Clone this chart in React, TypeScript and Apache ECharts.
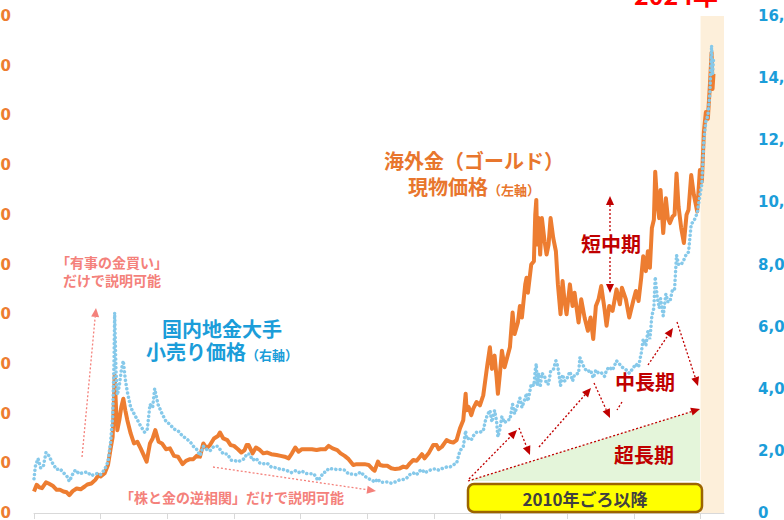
import React, { useEffect, useRef } from "react";
import * as echarts from "echarts";

// 海外金（ゴールド）現物価格 USD/oz  [year, value]
const goldUsd: [number, number][] = [
  [1974.0, 130], [1974.2, 170], [1974.4, 155], [1974.6, 150], [1974.9, 185],
  [1975.1, 178], [1975.4, 165], [1975.7, 140], [1975.95, 140], [1976.2, 130],
  [1976.45, 125], [1976.65, 108], [1976.9, 132], [1977.2, 148], [1977.5, 143],
  [1977.8, 160], [1978.0, 172], [1978.3, 178], [1978.6, 200], [1978.85, 230],
  [1979.0, 220], [1979.3, 240], [1979.55, 290], [1979.75, 390], [1979.9, 460],
  [1980.0, 680], [1980.05, 830], [1980.15, 640], [1980.25, 500], [1980.4, 560],
  [1980.55, 640], [1980.7, 690], [1980.85, 620], [1981.0, 560], [1981.25, 480],
  [1981.5, 420], [1981.75, 430], [1982.0, 390], [1982.45, 310], [1982.7, 420],
  [1982.9, 450], [1983.1, 500], [1983.35, 430], [1983.6, 420], [1983.9, 385],
  [1984.2, 390], [1984.5, 345], [1984.8, 340], [1985.15, 295], [1985.4, 315],
  [1985.7, 325], [1985.95, 325], [1986.2, 345], [1986.45, 340], [1986.7, 420],
  [1986.95, 390], [1987.2, 410], [1987.5, 450], [1987.8, 465], [1987.95, 486],
  [1988.2, 450], [1988.5, 440], [1988.75, 410], [1989.0, 405], [1989.3, 385],
  [1989.55, 365], [1989.8, 380], [1989.95, 410], [1990.1, 410], [1990.4, 360],
  [1990.65, 395], [1990.95, 380], [1991.2, 360], [1991.5, 365], [1991.8, 355],
  [1992.2, 350], [1992.5, 345], [1992.8, 340], [1993.1, 330], [1993.35, 360],
  [1993.6, 395], [1993.85, 370], [1994.1, 385], [1994.5, 385], [1994.85, 385],
  [1995.2, 380], [1995.5, 385], [1995.85, 385], [1996.1, 405], [1996.4, 390],
  [1996.75, 380], [1997.0, 360], [1997.3, 345], [1997.6, 325], [1997.95, 290],
  [1998.2, 295], [1998.5, 295], [1998.8, 295], [1999.1, 290], [1999.4, 265],
  [1999.55, 255], [1999.8, 310], [1999.95, 290], [2000.2, 285], [2000.5, 285],
  [2000.8, 270], [2001.1, 265], [2001.4, 268], [2001.7, 280], [2001.95, 275],
  [2002.2, 300], [2002.45, 320], [2002.7, 315], [2002.95, 340], [2003.1, 355],
  [2003.3, 330], [2003.6, 360], [2003.95, 410], [2004.2, 410], [2004.35, 385],
  [2004.6, 400], [2004.95, 440], [2005.2, 430], [2005.45, 425], [2005.7, 440],
  [2005.95, 510], [2006.2, 560], [2006.38, 720], [2006.45, 620], [2006.6, 640],
  [2006.8, 590], [2006.95, 630], [2007.2, 670], [2007.45, 650], [2007.7, 710],
  [2007.85, 800], [2008.0, 890], [2008.2, 1000], [2008.35, 870], [2008.55, 950],
  [2008.7, 820], [2008.8, 720], [2008.95, 840], [2009.1, 980], [2009.3, 880],
  [2009.5, 940], [2009.7, 1000], [2009.9, 1210], [2010.05, 1080], [2010.3, 1150],
  [2010.45, 1250], [2010.6, 1180], [2010.85, 1380], [2010.95, 1420], [2011.05, 1330],
  [2011.3, 1500], [2011.5, 1520], [2011.6, 1800], [2011.68, 1890], [2011.75, 1620],
  [2011.85, 1780], [2011.97, 1560], [2012.1, 1780], [2012.3, 1640], [2012.45, 1560],
  [2012.6, 1620], [2012.75, 1780], [2012.95, 1660], [2013.15, 1580], [2013.3, 1380],
  [2013.5, 1200], [2013.65, 1400], [2013.8, 1280], [2013.95, 1200], [2014.2, 1380],
  [2014.4, 1250], [2014.55, 1330], [2014.85, 1150], [2015.05, 1290], [2015.3, 1180],
  [2015.55, 1100], [2015.75, 1180], [2015.95, 1050], [2016.15, 1250], [2016.35, 1290],
  [2016.55, 1370], [2016.8, 1230], [2016.95, 1130], [2017.15, 1250], [2017.4, 1220],
  [2017.7, 1350], [2017.95, 1260], [2018.1, 1360], [2018.4, 1290], [2018.65, 1180],
  [2018.95, 1280], [2019.15, 1340], [2019.35, 1280], [2019.55, 1420], [2019.7, 1550],
  [2019.9, 1460], [2020.05, 1580], [2020.2, 1480], [2020.35, 1720], [2020.5, 1770],
  [2020.6, 2060], [2020.75, 1870], [2020.9, 1780], [2021.0, 1950], [2021.2, 1690],
  [2021.4, 1900], [2021.55, 1780], [2021.7, 1750], [2021.9, 1790], [2022.05, 1800],
  [2022.2, 2050], [2022.35, 1850], [2022.55, 1720], [2022.75, 1630], [2022.95, 1800],
  [2023.1, 1830], [2023.3, 2040], [2023.5, 1920], [2023.75, 1820], [2023.95, 2070],
  [2024.1, 2000], [2024.25, 2300], [2024.4, 2420], [2024.55, 2380], [2024.7, 2580],
  [2024.83, 2780], [2024.9, 2560], [2024.97, 2650],
];

// 国内地金大手 小売り価格 円/g  [year, value]
const retailJpy: [number, number][] = [
  [1974.0, 1100], [1974.1, 1500], [1974.3, 1750], [1974.5, 1450], [1974.7, 1500],
  [1974.9, 1950], [1975.1, 1850], [1975.4, 1600], [1975.7, 1400], [1975.95, 1420],
  [1976.2, 1300], [1976.45, 1200], [1976.65, 1020], [1976.9, 1250], [1977.1, 1380],
  [1977.4, 1260], [1977.7, 1300], [1978.0, 1320], [1978.3, 1200], [1978.6, 1260],
  [1978.85, 1280], [1979.0, 1240], [1979.3, 1400], [1979.55, 1650], [1979.75, 2300],
  [1979.9, 3100], [1980.0, 4800], [1980.05, 6450], [1980.15, 4600], [1980.25, 3800],
  [1980.4, 4100], [1980.55, 4600], [1980.7, 4900], [1980.85, 4300], [1981.0, 3900],
  [1981.25, 3400], [1981.5, 3200], [1981.75, 3000], [1982.0, 2800], [1982.3, 2600],
  [1982.5, 2700], [1982.7, 3500], [1982.9, 3400], [1983.05, 4000], [1983.3, 3500],
  [1983.6, 3200], [1983.9, 2950], [1984.2, 2850], [1984.5, 2700], [1984.8, 2650],
  [1985.1, 2500], [1985.4, 2400], [1985.7, 2300], [1985.95, 2150], [1986.2, 2050],
  [1986.45, 1850], [1986.7, 2150], [1986.95, 2050], [1987.2, 2000], [1987.5, 2150],
  [1987.75, 2150], [1987.95, 2050], [1988.2, 1900], [1988.5, 1900], [1988.8, 1700],
  [1989.1, 1680], [1989.3, 1650], [1989.55, 1700], [1989.8, 1750], [1989.95, 1900],
  [1990.15, 1900], [1990.4, 1700], [1990.65, 1760], [1990.95, 1600], [1991.2, 1580],
  [1991.5, 1600], [1991.8, 1480], [1992.1, 1460], [1992.4, 1420], [1992.7, 1400],
  [1993.0, 1360], [1993.3, 1300], [1993.6, 1360], [1993.85, 1300], [1994.1, 1350],
  [1994.4, 1270], [1994.7, 1260], [1995.0, 1260], [1995.3, 1050], [1995.5, 1150],
  [1995.7, 1300], [1995.9, 1320], [1996.1, 1430], [1996.4, 1420], [1996.7, 1400],
  [1997.0, 1400], [1997.3, 1380], [1997.6, 1260], [1997.95, 1250], [1998.2, 1230],
  [1998.5, 1320], [1998.8, 1190], [1999.1, 1100], [1999.4, 1050], [1999.55, 990],
  [1999.8, 1100], [1999.95, 1000], [2000.2, 990], [2000.5, 1000], [2000.8, 960],
  [2001.1, 1000], [2001.4, 1060], [2001.7, 1080], [2001.95, 1120], [2002.2, 1240],
  [2002.45, 1290], [2002.7, 1230], [2002.95, 1360], [2003.1, 1400], [2003.3, 1290],
  [2003.6, 1360], [2003.95, 1420], [2004.2, 1420], [2004.35, 1380], [2004.6, 1430],
  [2004.95, 1480], [2005.2, 1480], [2005.45, 1550], [2005.7, 1600], [2005.95, 2000],
  [2006.2, 2130], [2006.38, 2650], [2006.45, 2380], [2006.6, 2400], [2006.8, 2350],
  [2006.95, 2480], [2007.2, 2600], [2007.45, 2600], [2007.7, 2640], [2007.85, 2950],
  [2008.0, 3150], [2008.2, 3300], [2008.35, 2930], [2008.55, 3300], [2008.7, 2950],
  [2008.8, 2450], [2008.95, 2700], [2009.1, 3100], [2009.3, 2900], [2009.5, 3000],
  [2009.7, 3000], [2009.9, 3500], [2010.05, 3200], [2010.3, 3500], [2010.45, 3700],
  [2010.6, 3400], [2010.85, 3700], [2010.95, 3850], [2011.05, 3600], [2011.3, 4150],
  [2011.5, 4100], [2011.6, 4600], [2011.68, 4800], [2011.75, 4100], [2011.85, 4500],
  [2011.97, 4050], [2012.1, 4500], [2012.3, 4400], [2012.45, 4150], [2012.6, 4150],
  [2012.75, 4550], [2012.95, 4600], [2013.15, 4900], [2013.3, 4700], [2013.5, 4100],
  [2013.65, 4450], [2013.8, 4250], [2013.95, 4300], [2014.2, 4550], [2014.4, 4250],
  [2014.55, 4450], [2014.85, 4500], [2014.95, 5000], [2015.05, 4900], [2015.3, 4650],
  [2015.55, 4550], [2015.75, 4600], [2015.95, 4350], [2016.15, 4600], [2016.35, 4500],
  [2016.55, 4520], [2016.8, 4400], [2016.95, 4600], [2017.15, 4700], [2017.4, 4600],
  [2017.7, 4900], [2017.95, 4780], [2018.1, 4700], [2018.4, 4620], [2018.65, 4500],
  [2018.95, 4670], [2019.15, 4800], [2019.35, 4700], [2019.55, 5150], [2019.7, 5600],
  [2019.9, 5400], [2020.05, 5850], [2020.2, 5600], [2020.35, 6350], [2020.5, 6600],
  [2020.6, 7600], [2020.75, 6950], [2020.9, 6600], [2021.0, 6900], [2021.2, 6350],
  [2021.4, 7050], [2021.55, 6800], [2021.7, 6800], [2021.9, 7200], [2022.05, 7200],
  [2022.2, 8300], [2022.35, 8000], [2022.55, 8000], [2022.75, 8150], [2022.95, 8350],
  [2023.1, 8400], [2023.3, 9300], [2023.5, 9400], [2023.75, 9650], [2023.95, 10200],
  [2024.1, 10600], [2024.25, 12000], [2024.4, 12600], [2024.55, 12800], [2024.7, 13500],
  [2024.83, 15050], [2024.9, 14100], [2024.97, 14600],
];

const xTickYears = [1974, 1979, 1984, 1989, 1994, 1999, 2004, 2009, 2014, 2019, 2024];
const highlightRange = [2024, 2025.76];
const xRange = [1974, 2025.76];
const leftAxisRange = [0, 3000, 300];
const rightAxisRange = [0, 16000, 2000];

const JP = '"Noto Sans CJK JP", "Noto Sans CJK SC", sans-serif';
const SALMON = "#F4817B";
const DARKRED = "#C00000";
const ORANGE = "#ED7D31";
const ORANGE_TXT = "#E8762D";
const BLUE = "#86C9EA";
const BLUE_TXT = "#1B9DD9";

function arrow(x1: number, y1: number, x2: number, y2: number, color: string, head = true) {
  const els: any[] = [];
  const ang = Math.atan2(y2 - y1, x2 - x1);
  const L = 9;
  const W = 4;
  const bx = x2 - L * Math.cos(ang);
  const by = y2 - L * Math.sin(ang);
  els.push({
    type: "line",
    shape: head ? { x1, y1, x2: bx, y2: by } : { x1, y1, x2, y2 },
    style: { stroke: color, lineWidth: 1.3, lineDash: [2, 2] },
    z: 20,
  });
  if (head) {
    const px = -Math.sin(ang) * W;
    const py = Math.cos(ang) * W;
    els.push({
      type: "polygon",
      shape: { points: [[x2, y2], [bx + px, by + py], [bx - px, by - py]] },
      style: { fill: color },
      z: 20,
    });
  }
  return els;
}

function txt(x: number, y: number, text: string, fill: string, size: number, extra: any = {}) {
  return {
    type: "text",
    x,
    y,
    z: 30,
    style: {
      text,
      fill,
      font: `bold ${size}px ${JP}`,
      align: "center",
      verticalAlign: "middle",
      ...extra,
    },
  };
}

function twoLine(x: number, y: number, line1: string, line2: string, sub: string, fill: string, lh: number) {
  return {
    type: "text",
    x,
    y,
    z: 30,
    style: {
      text: `{a|${line1}}\n{a|${line2}}{b|${sub}}`,
      align: "center",
      verticalAlign: "middle",
      rich: {
        a: { fill, fontSize: 20, fontWeight: "bold", fontFamily: JP, lineHeight: lh, verticalAlign: "bottom" },
        b: { fill, fontSize: 13, fontWeight: "bold", fontFamily: JP, lineHeight: lh, verticalAlign: "bottom" },
      },
    },
  };
}

export default function App() {
  const ref = useRef<HTMLDivElement>(null);

  useEffect(() => {
    document.body.style.margin = "0";
    const chart = echarts.init(ref.current as HTMLDivElement, null, { renderer: "svg" });

    const graphics: any[] = [
      {
        type: "polygon",
        shape: { points: [[468, 481], [700, 409], [700, 481]] },
        style: { fill: "#E4F5DA" },
        z: 0,
      },
      ...arrow(82, 457, 96, 308, SALMON),
      ...arrow(213, 467, 376, 491, SALMON),
      ...arrow(610, 231, 610, 196, DARKRED),
      ...arrow(610, 257, 610, 293, DARKRED),
      ...arrow(469, 479, 517, 430, DARKRED),
      ...arrow(519, 428, 530, 455, DARKRED),
      ...arrow(539, 447, 591, 388, DARKRED),
      ...arrow(594, 383, 610, 418, DARKRED),
      ...arrow(622, 402, 617, 410, DARKRED, false),
      ...arrow(648, 365, 673, 328, DARKRED),
      ...arrow(677, 322, 698, 386, DARKRED),
      ...arrow(468, 481, 700, 409, DARKRED),
      {
        type: "rect",
        shape: { x: 468, y: 484, width: 234, height: 28, r: 6 },
        style: { fill: "#FFFF00", stroke: "#9C6500", lineWidth: 2.5 },
        z: 25,
      },
      txt(585, 498, "2010年ごろ以降", "#404040", 17),
      {
        type: "text",
        x: 112,
        y: 271,
        z: 30,
        style: {
          text: "「有事の金買い」\nだけで説明可能",
          fill: SALMON,
          font: `bold 14px ${JP}`,
          lineHeight: 18,
          align: "center",
          verticalAlign: "middle",
        },
      },
      txt(232, 497, "「株と金の逆相関」だけで説明可能", SALMON, 14),
      twoLine(222, 338, "国内地金大手", "小売り価格", "（右軸）", BLUE_TXT, 23),
      twoLine(474, 170, "海外金（ゴールド）", "現物価格", "（左軸）", ORANGE_TXT, 26),
      txt(611, 243, "短中期", DARKRED, 20),
      txt(645, 381, "中長期", DARKRED, 20),
      txt(644, 454, "超長期", DARKRED, 20),
      txt(676, 6, "2024年", "#FF0000", 25, { verticalAlign: "bottom" }),
    ];

    chart.setOption({
      animation: false,
      backgroundColor: "#FFFFFF",
      grid: { left: 34, right: 60, top: 16, bottom: 7, containLabel: false, outerBoundsMode: "none" },
      xAxis: {
        type: "value",
        min: xRange[0],
        max: xRange[1],
        axisLine: { show: true, lineStyle: { color: "#D9D9D9", width: 1 } },
        axisTick: { show: true, length: 6, lineStyle: { color: "#D9D9D9" }, customValues: xTickYears },
        axisLabel: { show: false },
        splitLine: { show: false },
      },
      yAxis: [
        {
          type: "value",
          min: leftAxisRange[0],
          max: leftAxisRange[1],
          interval: leftAxisRange[2],
          position: "left",
          axisLine: { show: false },
          axisTick: { show: false },
          splitLine: { show: false },
          axisLabel: {
            margin: 23,
            color: ORANGE,
            fontSize: 15,
            fontWeight: "bold",
            fontFamily: '"DejaVu Sans", sans-serif',
            formatter: (v: number) => v.toLocaleString("en-US"),
          },
        },
        {
          type: "value",
          min: rightAxisRange[0],
          max: rightAxisRange[1],
          interval: rightAxisRange[2],
          position: "right",
          axisLine: { show: false },
          axisTick: { show: false },
          splitLine: { show: false },
          axisLabel: {
            margin: 34,
            color: BLUE_TXT,
            fontSize: 15,
            fontWeight: "bold",
            fontFamily: '"DejaVu Sans", sans-serif',
            formatter: (v: number) => v.toLocaleString("en-US"),
          },
        },
      ],
      series: [
        {
          type: "line",
          name: "海外金",
          yAxisIndex: 0,
          data: goldUsd,
          symbol: "none",
          showSymbol: false,
          lineStyle: { color: ORANGE, width: 4, join: "round" },
          z: 3,
          markArea: {
            silent: true,
            itemStyle: { color: "#FDEFDA" },
            data: [[{ xAxis: highlightRange[0] }, { xAxis: highlightRange[1] }]],
          },
        },
        {
          type: "line",
          name: "国内小売",
          yAxisIndex: 1,
          data: retailJpy,
          symbol: "none",
          showSymbol: false,
          lineStyle: { color: BLUE, width: 3.5, type: [0.1, 4.2], cap: "round" },
          z: 4,
        },
      ],
      graphic: { elements: graphics },
    });

    return () => chart.dispose();
  }, []);

  return (
    <div
      ref={ref}
      style={{ width: 784, height: 520, position: "absolute", left: 0, top: 0 }}
    />
  );
}
